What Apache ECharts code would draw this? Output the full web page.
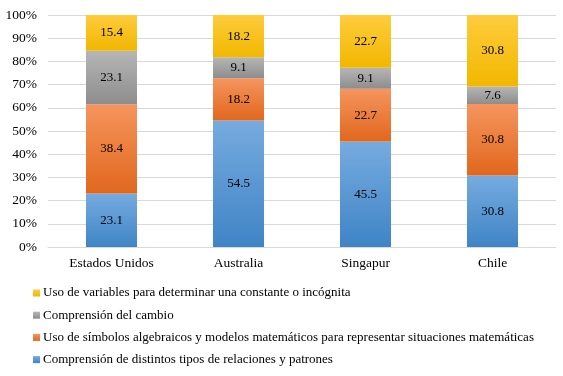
<!DOCTYPE html>
<html>
<head>
<meta charset="utf-8">
<script src="https://cdn.jsdelivr.net/npm/echarts@6/dist/echarts.min.js"></script>
<style>html,body{margin:0;padding:0;background:#fff;}#c{width:563px;height:376px;}</style>
</head>
<body>
<div id="c"></div>
<script>
const categories = ['Estados Unidos', 'Australia', 'Singapur', 'Chile'];
const seriesNames = [
  'Comprensión de distintos tipos de relaciones y patrones',
  'Uso de símbolos algebraicos y modelos matemáticos para representar situaciones matemáticas',
  'Comprensión del cambio',
  'Uso de variables para determinar una constante o incógnita'
];
const relaciones = [23.1, 54.5, 45.5, 30.8];
const simbolos = [38.4, 18.2, 22.7, 30.8];
const cambio = [23.1, 9.1, 9.1, 7.6];
const variables = [15.4, 18.2, 22.7, 30.8];
const yTicks = [0, 10, 20, 30, 40, 50, 60, 70, 80, 90, 100];

const colors = [
  ['#76abdf', '#3f84c6', '#5b9bd5'],
  ['#f5955e', '#e1671d', '#ed7d31'],
  ['#b6b6b6', '#8d8d8d', '#a5a5a5'],
  ['#ffcc3c', '#f1b700', '#ffc000']
];
const values = [relaciones, simbolos, cambio, variables];
const font = 'Liberation Serif, Times New Roman, serif';

const chart = echarts.init(document.getElementById('c'));
chart.setOption({
  animation: false,
  color: colors.map(c => c[2]),
  grid: { left: 48, right: 7, top: 15, bottom: 129 },
  xAxis: {
    type: 'category',
    data: categories,
    axisLine: { lineStyle: { color: '#d9d9d9' } },
    axisTick: { show: false },
    axisLabel: { color: '#000', fontFamily: font, fontSize: 13.5, margin: 9 }
  },
  yAxis: {
    type: 'value',
    min: 0, max: 100, interval: 10,
    axisLine: { show: false },
    axisTick: { show: false },
    splitLine: { lineStyle: { color: '#d9d9d9' } },
    axisLabel: { color: '#000', fontFamily: font, fontSize: 13.5, margin: 11, formatter: '{value}%' }
  },
  legend: {
    orient: 'vertical',
    left: 28,
    top: 281,
    itemWidth: 7,
    itemHeight: 7,
    itemGap: 8.2,
    icon: 'rect',
    data: [seriesNames[3], seriesNames[2], seriesNames[1], seriesNames[0]],
    textStyle: { color: '#000', fontFamily: font, fontSize: 13, lineHeight: 14, padding: [0, 0, 0, -2] }
  },
  series: values.map((v, i) => ({
    name: seriesNames[i],
    type: 'bar',
    stack: 'total',
    barWidth: 51,
    data: v,
    itemStyle: {
      color: new echarts.graphic.LinearGradient(0, 0, 0, 1, [
        { offset: 0, color: colors[i][0] },
        { offset: 1, color: colors[i][1] }
      ])
    },
    label: {
      show: true,
      position: 'inside',
      color: '#000',
      fontFamily: font,
      fontSize: 13,
      formatter: p => p.value.toFixed(1)
    }
  }))
});
</script>
</body>
</html>
